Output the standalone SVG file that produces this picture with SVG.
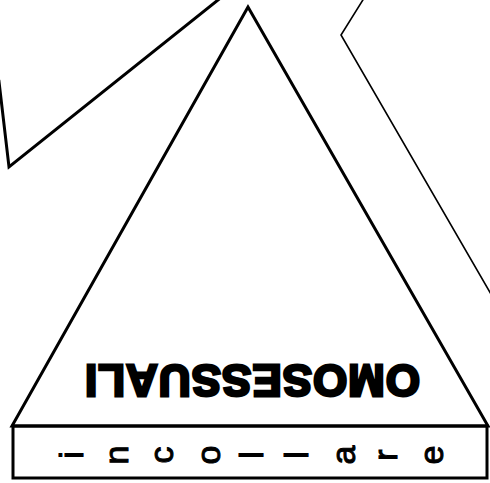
<svg xmlns="http://www.w3.org/2000/svg" width="490" height="483" viewBox="0 0 490 483">
  <style>
    .shape { fill: none; stroke: #000; stroke-linejoin: miter; }
    .thick { stroke-width: 3; }
    .thin { stroke-width: 1.6; }
    .title { font-family: "Liberation Sans", Arial, sans-serif; font-weight: bold; font-size: 44px; fill: #000; stroke: #000; stroke-width: 2.8; stroke-linejoin: miter; letter-spacing: 1px; }
    .letter { font-family: "Liberation Sans", Arial, sans-serif; font-size: 34px; fill: #000; stroke: #000; stroke-width: 1; }
  </style>
  <rect width="490" height="483" fill="#fff"/>
  <g id="connectors">
    <polyline class="shape thick" points="-1.2,80 9,167 223,-4"/>
    <polyline class="shape thin" points="366,-5 341,35 495,301"/>
  </g>
  <g id="triangle">
    <polygon class="shape thick" points="248,7 12,426 488,426"/>
    <text class="title" x="252" y="397" text-anchor="middle" transform="rotate(180 252 381)">OMOSESSUALI</text>
  </g>
  <g id="box">
    <rect class="shape thick" x="13" y="426" width="474" height="52"/>
    <text class="letter" x="83" y="455" text-anchor="middle" transform="rotate(-90 83 455)">i</text>
    <text class="letter" x="128" y="455" text-anchor="middle" transform="rotate(-90 128 455)">n</text>
    <text class="letter" x="173" y="455" text-anchor="middle" transform="rotate(-90 173 455)">c</text>
    <text class="letter" x="220" y="455" text-anchor="middle" transform="rotate(-90 220 455)">o</text>
    <text class="letter" x="263" y="455" text-anchor="middle" transform="rotate(-90 263 455)">l</text>
    <text class="letter" x="308" y="455" text-anchor="middle" transform="rotate(-90 308 455)">l</text>
    <text class="letter" x="355" y="455" text-anchor="middle" transform="rotate(-90 355 455)">a</text>
    <text class="letter" x="397" y="455" text-anchor="middle" transform="rotate(-90 397 455)">r</text>
    <text class="letter" x="443" y="455" text-anchor="middle" transform="rotate(-90 443 455)">e</text>
  </g>
</svg>
